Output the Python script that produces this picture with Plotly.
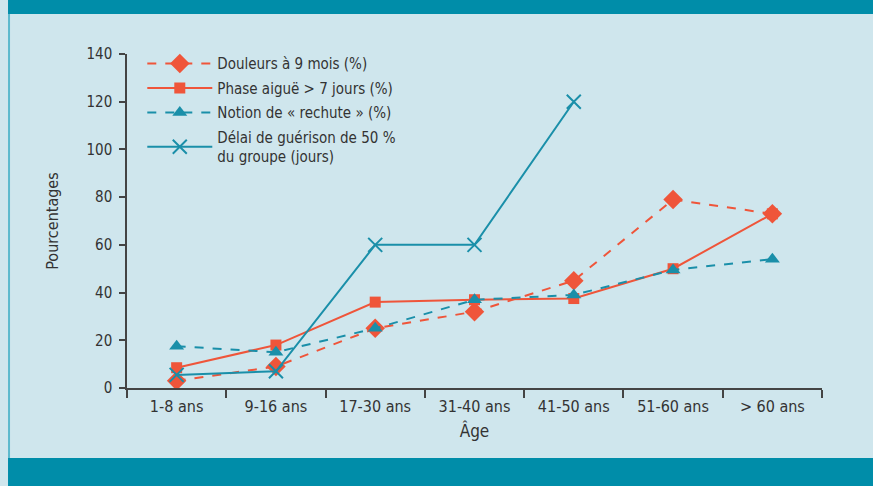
import plotly.graph_objects as go

# data
ages = ["1-8 ans", "9-16 ans", "17-30 ans", "31-40 ans", "41-50 ans", "51-60 ans", "> 60 ans"]
douleurs = [3, 9, 25, 32, 45, 79, 73]
phase_aigue = [8.5, 18, 36, 37, 37.5, 50, 73]
rechute = [17.5, 15, 25, 37, 39, 49.5, 54]
delai = [5.5, 7, 60, 60, 120]

ORANGE = "#ef553a"
TEAL = "#1a8fa9"
BG = "#cfe6ed"
BAND = "#008da9"
FONT = "DejaVu Sans Condensed, sans-serif"

fig = go.Figure()

fig.add_trace(go.Scatter(
    x=ages, y=douleurs, name="Douleurs à 9 mois (%)", mode="lines+markers",
    legendgroup="a",
    line=dict(color=ORANGE, width=2, dash="dash"),
    marker=dict(symbol="diamond", size=15, color=ORANGE),
))
fig.add_trace(go.Scatter(
    x=ages, y=phase_aigue, name="Phase aiguë > 7 jours (%)", mode="lines+markers",
    legendgroup="b",
    line=dict(color=ORANGE, width=2),
    marker=dict(symbol="square", size=11, color=ORANGE),
))
fig.add_trace(go.Scatter(
    x=ages, y=rechute, name="Notion de « rechute » (%)", mode="lines+markers",
    legendgroup="c",
    line=dict(color=TEAL, width=2, dash="dash"),
    marker=dict(symbol="triangle-up", size=13, color=TEAL),
))
fig.add_trace(go.Scatter(
    x=ages[:len(delai)], y=delai, name="Délai de guérison de 50 %<br>du groupe (jours)",
    mode="lines+markers", legendgroup="d",
    line=dict(color=TEAL, width=2),
    marker=dict(symbol="x-thin", size=14, color=TEAL, line=dict(color=TEAL, width=2)),
))

# frame: top and bottom bands, left rule
fig.add_shape(type="rect", xref="paper", yref="paper", x0=-0.1712, x1=1.1, y0=1.1198, y1=1.2,
              fillcolor=BAND, line_width=0, layer="below")
fig.add_shape(type="rect", xref="paper", yref="paper", x0=-0.1712, x1=1.1, y0=-0.2096, y1=-0.4,
              fillcolor=BAND, line_width=0, layer="below")
fig.add_shape(type="rect", xref="paper", yref="paper", x0=-0.1712, x1=-0.1683, y0=-0.2096, y1=1.1198,
              fillcolor="#5cb9cd", line_width=0, layer="below")

fig.update_layout(
    width=873, height=486,
    paper_bgcolor=BG, plot_bgcolor=BG,
    margin=dict(l=127, r=51, t=54, b=98),
    font=dict(family=FONT, size=14, color="#333333"),
    showlegend=True,
    legend=dict(
        x=0.022, y=1.02, xanchor="left", yanchor="top",
        bgcolor="rgba(0,0,0,0)", font=dict(size=15, color="#333333"),
        itemwidth=65, tracegroupgap=2,
    ),
    xaxis=dict(
        type="category", range=[-0.5, 6.5], showgrid=False, zeroline=False,
        showline=True, linecolor="#444444", linewidth=1.5,
        ticks="outside", tickson="boundaries", ticklen=8, tickcolor="#444444", tickwidth=1.5,
        ticklabelstandoff=3,
        title=dict(text="Âge", font=dict(size=17), standoff=10),
        tickfont=dict(size=16),
    ),
    yaxis=dict(
        range=[0, 140], dtick=20, showgrid=False, zeroline=False,
        showline=True, linecolor="#444444", linewidth=1.5,
        ticks="outside", ticklen=6, tickcolor="#444444", tickwidth=1.5,
        ticklabelstandoff=4,
        title=dict(text="Pourcentages", font=dict(size=16), standoff=24),
        tickfont=dict(size=15),
    ),
)

fig.write_html(
    "out.html",
    config=dict(displayModeBar=False),
    post_script="document.body.style.margin='0';document.body.style.background='%s';" % BG,
)
